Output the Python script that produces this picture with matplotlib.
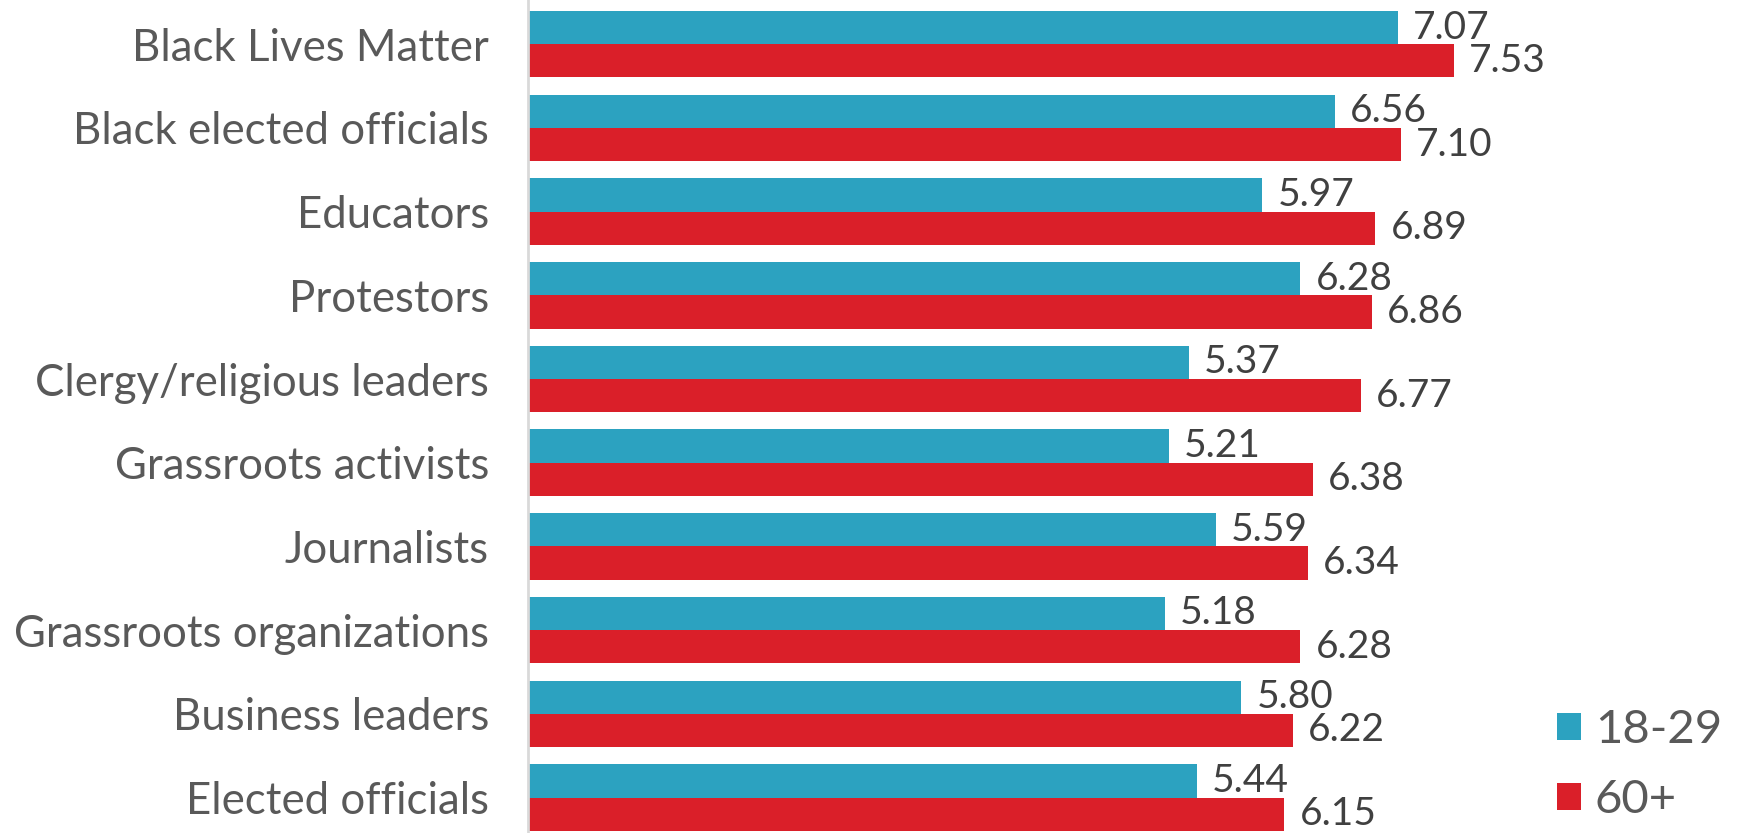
import matplotlib
matplotlib.use("Agg")
import matplotlib.pyplot as plt
from matplotlib.patches import Patch

categories = ["Black Lives Matter", "Black elected officials", "Educators", "Protestors",
              "Clergy/religious leaders", "Grassroots activists", "Journalists",
              "Grassroots organizations", "Business leaders", "Elected officials"]
young = [7.07, 6.56, 5.97, 6.28, 5.37, 5.21, 5.59, 5.18, 5.80, 5.44]
old = [7.53, 7.10, 6.89, 6.86, 6.77, 6.38, 6.34, 6.28, 6.22, 6.15]
series_names = ["18-29", "60+"]

BLUE = "#2CA2C0"
RED = "#DA1F29"
LABEL = "#595959"
VALUE = "#404040"
FONT = ["Lato", "DejaVu Sans"]

W, H = 1737, 833
fig = plt.figure(figsize=(W / 100, H / 100), dpi=100)
left_px = 528
ax = fig.add_axes([left_px / W, 0, 1 - left_px / W, 1])
px_per_unit = 123.0
ax.set_xlim(0, (W - left_px) / px_per_unit)
pitch = 83.7
c0 = 44.2
ax.set_ylim((H - c0) / pitch, -c0 / pitch)

bh = 0.397
ys = list(range(len(categories)))
b1 = ax.barh([y - bh / 2 for y in ys], young, height=bh, color=BLUE, label=series_names[0])
b2 = ax.barh([y + bh / 2 for y in ys], old, height=bh, color=RED, label=series_names[1])

off = 15 / px_per_unit
for y, v in zip(ys, young):
    ax.text(v + off, y - bh / 2, f"{v:.2f}", va="center", ha="left", fontsize=28,
            color=VALUE, family=FONT)
for y, v in zip(ys, old):
    ax.text(v + off, y + bh / 2, f"{v:.2f}", va="center", ha="left", fontsize=28,
            color=VALUE, family=FONT)

ax.set_yticks(ys)
ax.set_yticklabels(categories, fontsize=31.5, color=LABEL, family=FONT)
ax.tick_params(axis="y", length=0, pad=28)
ax.set_xticks([])
for s in ["top", "right", "bottom"]:
    ax.spines[s].set_visible(False)
ax.spines["left"].set_color("#D9D9D9")
ax.spines["left"].set_linewidth(2)

handles = [Patch(facecolor=BLUE), Patch(facecolor=RED)]
leg = fig.legend(handles, series_names, loc="center left",
                 bbox_to_anchor=(1557 / W, 1 - 765 / H),
                 frameon=False, prop={"family": FONT, "size": 34},
                 handlelength=0.5, handleheight=0.5, handletextpad=0.3,
                 labelspacing=0.6, borderpad=0, borderaxespad=0)
for t in leg.get_texts():
    t.set_color(LABEL)

fig.savefig("out.png", dpi=100)
